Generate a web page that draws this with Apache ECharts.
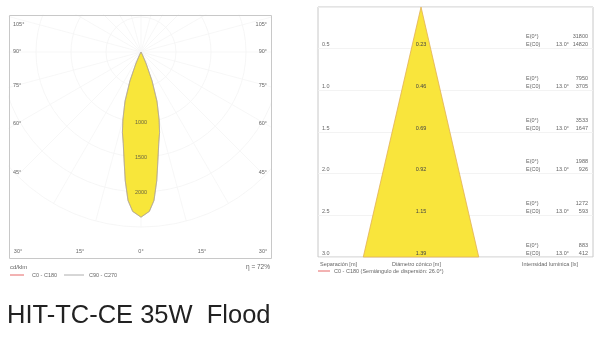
<!DOCTYPE html>
<html>
<head>
<meta charset="utf-8">
<script src="https://cdn.jsdelivr.net/npm/echarts@6/dist/echarts.min.js"></script>
<style>
  html, body { margin: 0; padding: 0; background: #fff; }
  #chart { width: 600px; height: 343px; }
</style>
</head>
<body>
<div id="chart"></div>
<script>
// Polar diagram data (cd/klm vs angle from nadir)
const lobeAngles = [-30, -27, -24, -21, -18, -15, -13, -11, -9, -7, -5, -3, 0, 3, 5, 7, 9, 11, 13, 15, 18, 21, 24, 27, 30];
const lobeC0 = [0, 40, 180, 440, 740, 1000, 1180, 1330, 1550, 1850, 2130, 2280, 2360, 2280, 2130, 1850, 1550, 1330, 1180, 1000, 740, 440, 180, 40, 0];
const lobeC90 = lobeC0; // rotationally symmetric luminaire
const ringLabels = [1000, 1500, 2000];
const sideAngleLabels = ['105°', '90°', '75°', '60°', '45°'];
const bottomAngleLabels = ['30°', '15°', '0°', '15°', '30°'];

// Cone diagram data
const separations = [0.5, 1.0, 1.5, 2.0, 2.5, 3.0];
const diameters = [0.23, 0.46, 0.69, 0.92, 1.15, 1.39];
const eCenter = [31800, 7950, 3533, 1988, 1272, 883];
const eEdge = [14820, 3705, 1647, 926, 593, 412];
const halfAngle = '13.0°';

const FONT = 'Liberation Sans, Arial, sans-serif';
const TXT = '#666';
const SMALL = 5.5;

// layout of the left box
const box = { x: 9, y: 15, w: 262, h: 243 };
const pc = [141, 52];
const sideLabelY = [24, 51, 85, 123, 172];
const bottomLabelX = [18, 80, 141, 202, 263];

const chart = echarts.init(document.getElementById('chart'));

function txt(x, y, s, opt) {
    return {
        type: 'text', x: x, y: y, z: 120,
        style: Object.assign({ text: s, fill: TXT, font: SMALL + 'px ' + FONT, textVerticalAlign: 'middle' }, opt || {})
    };
}

const graphics = [];
// masks to clip the polar grid to the box
graphics.push({ type: 'rect', z: 50, shape: { x: 0, y: 0, width: 316, height: box.y - 0.5 }, style: { fill: '#fff' } });
graphics.push({ type: 'rect', z: 50, shape: { x: 0, y: 0, width: box.x - 0.5, height: 343 }, style: { fill: '#fff' } });
graphics.push({ type: 'rect', z: 50, shape: { x: box.x + box.w + 0.5, y: 0, width: 316 - box.x - box.w, height: 343 }, style: { fill: '#fff' } });
graphics.push({ type: 'rect', z: 60, shape: { x: box.x + 0.5, y: box.y + 0.5, width: box.w, height: box.h }, style: { fill: null, stroke: '#c8c8c8', lineWidth: 1 } });

sideAngleLabels.forEach((s, i) => {
    graphics.push(txt(box.x + 4, sideLabelY[i], s));
    graphics.push(txt(box.x + box.w - 4, sideLabelY[i], s, { textAlign: 'right' }));
});
bottomAngleLabels.forEach((s, i) => {
    graphics.push(txt(bottomLabelX[i], box.y + box.h - 7, s, { textAlign: 'center' }));
});
graphics.push(txt(10, 267, 'cd/klm', { font: '6px ' + FONT }));
graphics.push(txt(270, 267, 'η = 72%', { textAlign: 'right', font: '6.5px ' + FONT }));
graphics.push({ type: 'line', z: 120, shape: { x1: 10, y1: 275, x2: 24, y2: 275 }, style: { stroke: '#e04040', lineWidth: 0.8 } });
graphics.push(txt(32, 275, 'C0 - C180'));
graphics.push({ type: 'line', z: 120, shape: { x1: 64, y1: 275, x2: 84, y2: 275 }, style: { stroke: '#999', lineWidth: 0.8 } });
graphics.push(txt(89, 275, 'C90 - C270'));

// right panel footer
graphics.push(txt(320, 264, 'Separación [m]'));
graphics.push(txt(392, 264, 'Diámetro cónico [m]'));
graphics.push(txt(522, 264, 'Intensidad lumínica [lx]'));
graphics.push({ type: 'line', z: 120, shape: { x1: 318, y1: 271, x2: 330, y2: 271 }, style: { stroke: '#e04040', lineWidth: 0.8 } });
graphics.push(txt(334, 271, 'C0 - C180 (Semiángulo de dispersión: 26.0°)'));

// title
graphics.push({
    type: 'text', x: 7, y: 316, z: 120,
    style: { text: 'HIT-TC-CE 35W  Flood', fill: '#222', font: '25.5px ' + FONT, textVerticalAlign: 'middle' }
});

const option = {
    animation: false,
    backgroundColor: '#fff',
    textStyle: { fontFamily: FONT },
    polar: { center: pc, radius: 175 },
    angleAxis: {
        type: 'value', min: -180, max: 180, interval: 15, startAngle: 90, clockwise: true,
        axisLine: { show: false }, axisTick: { show: false }, axisLabel: { show: false },
        splitLine: { show: true, lineStyle: { color: '#f5f5f5', width: 0.8 } }
    },
    radiusAxis: {
        type: 'value', min: 0, max: 2500, interval: 500,
        axisLine: { show: false }, axisTick: { show: false }, axisLabel: { show: false },
        splitLine: { show: true, lineStyle: { color: '#f4f4f4', width: 0.8 } }
    },
    grid: {
        left: 318, right: 7, top: 7, bottom: 86,
        show: true, borderColor: '#c8c8c8', borderWidth: 1
    },
    xAxis: { type: 'value', min: -1.24, max: 2.07, show: false },
    yAxis: {
        type: 'value', min: 0, max: 3, interval: 0.5, inverse: true,
        axisLine: { show: false }, axisTick: { show: false }, axisLabel: { show: false },
        splitLine: { show: true, lineStyle: { color: '#f0f0f0', width: 0.8 } }
    },
    graphic: graphics,
    series: [
        {
            name: 'C0 - C180', type: 'line', coordinateSystem: 'polar',
            data: lobeAngles.map((a, i) => [lobeC0[i], a]),
            symbol: 'none', smooth: false, z: 5,
            lineStyle: { color: '#c8a060', width: 0.6 },
            areaStyle: { color: '#f8e63a', opacity: 1 }
        },
        {
            name: 'C90 - C270', type: 'line', coordinateSystem: 'polar',
            data: lobeAngles.map((a, i) => [lobeC90[i], a]),
            symbol: 'none', smooth: false, z: 6,
            lineStyle: { color: '#a0a4b0', width: 0.6 }
        },
        {
            type: 'scatter', coordinateSystem: 'polar', z: 7,
            data: ringLabels.map(r => [r, 0]),
            symbolSize: 0,
            label: { show: true, position: 'inside', formatter: p => String(p.value[0]), color: '#444', fontSize: SMALL, fontFamily: FONT }
        },
        {
            type: 'custom', xAxisIndex: 0, yAxisIndex: 0, z: 3,
            data: [[diameters[diameters.length - 1], separations[separations.length - 1]]],
            renderItem: (params, api) => {
                const d = api.value(0), s = api.value(1);
                return {
                    type: 'polygon',
                    shape: { points: [api.coord([0, 0]), api.coord([-d / 2, s]), api.coord([d / 2, s])] },
                    style: { fill: '#f9e53c', stroke: '#e2b055', lineWidth: 0.8 }
                };
            }
        },
        {
            type: 'custom', xAxisIndex: 0, yAxisIndex: 0, z: 8,
            data: separations.map((s, i) => [0, s, diameters[i], eCenter[i], eEdge[i]]),
            renderItem: (params, api) => {
                const p = api.coord([0, api.value(1)]);
                const y = p[1];
                const f = SMALL + 'px ' + FONT;
                const mk = (x, yy, s, align, color) => ({
                    type: 'text', x: x, y: yy,
                    style: { text: s, fill: color || TXT, font: f, textAlign: align || 'left', textVerticalAlign: 'middle' }
                });
                return {
                    type: 'group',
                    children: [
                        mk(322, y - 4, api.value(1).toFixed(1)),
                        mk(p[0], y - 4, api.value(2).toFixed(2), 'center', '#444'),
                        mk(526, y - 12, 'E(0°)'),
                        mk(526, y - 4, 'E(C0)'),
                        mk(556, y - 4, halfAngle),
                        mk(588, y - 12, String(api.value(3)), 'right'),
                        mk(588, y - 4, String(api.value(4)), 'right')
                    ]
                };
            }
        }
    ]
};

chart.setOption(option);
</script>
</body>
</html>
